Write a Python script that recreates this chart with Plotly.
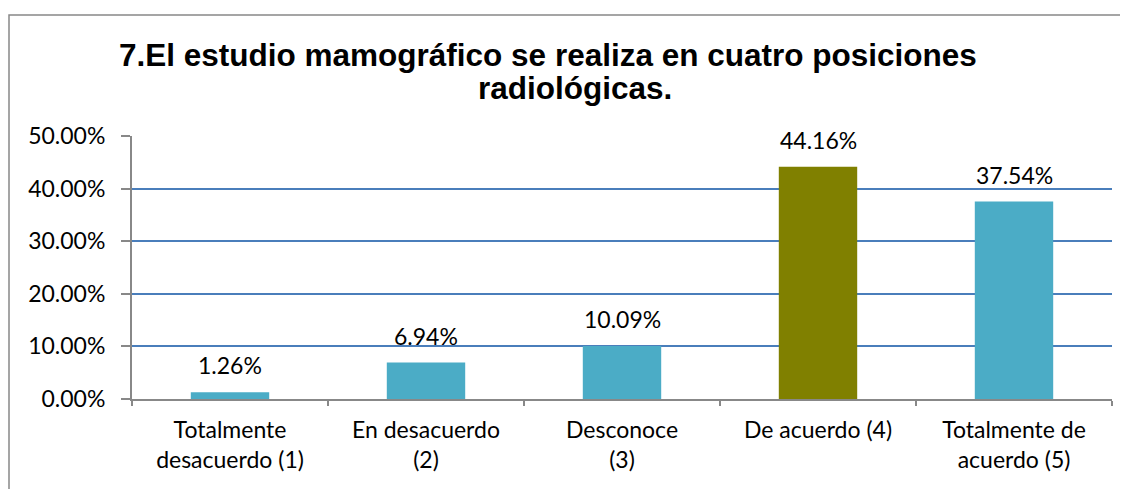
import plotly.graph_objects as go

categories = ["Totalmente<br>desacuerdo (1)", "En desacuerdo<br>(2)", "Desconoce<br>(3)",
              "De acuerdo (4)", "Totalmente de<br>acuerdo (5)"]
values = [1.26, 6.94, 10.09, 44.16, 37.54]
labels = ["1.26%", "6.94%", "10.09%", "44.16%", "37.54%"]
colors = ["#4BACC6", "#4BACC6", "#4BACC6", "#808000", "#4BACC6"]
y_ticks = [0, 10, 20, 30, 40, 50]
y_tick_text = ["0.00%", "10.00%", "20.00%", "30.00%", "40.00%", "50.00%"]
title_lines = ["7.El estudio mamográfico se realiza en cuatro posiciones", "radiológicas."]

OFF = 8  # page body margin
W, H = 1128 - OFF, 489 - OFF
# target pixel coordinates (in window) -> figure
L, R, T, B = 132 - OFF, 16, 136 - OFF, 90
pw, ph = W - L - R, H - T - B

def px_x(x):
    return (x - OFF - L) / pw

def px_y(y):
    return (H - B - (y - OFF)) / ph

FONT = "Lato, Open Sans, sans-serif"

fig = go.Figure(go.Bar(
    x=categories, y=values, marker_color=colors, marker_line_width=0,
    width=0.4, hoverinfo="x+y",
))

annotations = []
for c, v, t in zip(categories, values, labels):
    annotations.append(dict(x=c, y=v, xref="x", yref="y", text=t, showarrow=False,
                            yanchor="bottom", yshift=11,
                            font=dict(family=FONT, size=23, color="#000000")))
for line, cx, cy in zip(title_lines, [548, 575], [55, 88]):
    annotations.append(dict(x=px_x(cx), y=px_y(cy), xref="paper", yref="paper",
                            text="<b>" + line + "</b>", showarrow=False,
                            xanchor="center", yanchor="middle",
                            font=dict(family="Liberation Sans, Arial, sans-serif", size=31.5, color="#000000")))

fig.update_layout(
    width=W, height=H,
    margin=dict(l=L, r=R, t=T, b=B),
    paper_bgcolor="white", plot_bgcolor="white",
    showlegend=False,
    font=dict(family=FONT, size=23, color="#000000"),
    annotations=annotations,
    shapes=[dict(type="rect", xref="paper", yref="paper",
                 x0=px_x(9), x1=px_x(1128 + 5), y0=px_y(489 + 5), y1=px_y(15),
                 line=dict(color="#888888", width=1.5), fillcolor="rgba(0,0,0,0)",
                 layer="below")],
)

fig.update_yaxes(
    range=[0, 50], tickvals=y_ticks, ticktext=y_tick_text,
    showgrid=True, gridcolor="#4A7EBB", gridwidth=1.5,
    showline=True, linecolor="#888888", linewidth=2,
    ticks="outside", ticklen=9, tickcolor="#888888", tickwidth=2,
    ticklabelstandoff=11, zeroline=False,
    tickfont=dict(size=23),
)
fig.update_xaxes(
    showline=True, linecolor="#888888", linewidth=2,
    ticks="outside", tickson="boundaries", ticklen=5, tickcolor="#888888", tickwidth=2,
    tickfont=dict(size=23), tickangle=0, ticklabelstandoff=9,
)

fig.write_html("out.html")
